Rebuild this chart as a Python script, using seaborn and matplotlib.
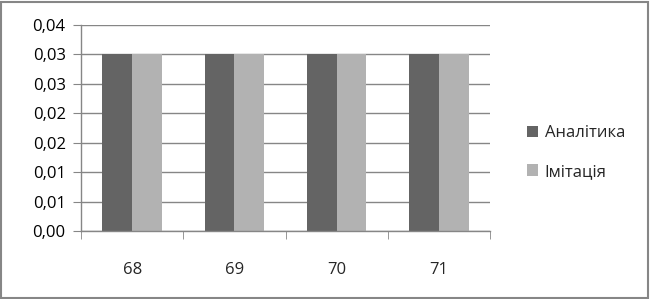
import math
import matplotlib
matplotlib.use("Agg")
import matplotlib.pyplot as plt
from matplotlib.ticker import MultipleLocator, FuncFormatter, FixedLocator
from matplotlib.patches import Rectangle
import seaborn as sns
import pandas as pd

categories = ["68", "69", "70", "71"]
analytic = [0.03, 0.03, 0.03, 0.03]
imitation = [0.03, 0.03, 0.03, 0.03]
series_names = ["Аналітика", "Імітація"]

df = pd.DataFrame({
    "cat": categories * 2,
    "value": analytic + imitation,
    "series": [series_names[0]] * 4 + [series_names[1]] * 4,
})

sns.set_style("white")
plt.rcParams["font.family"] = ["Open Sans", "DejaVu Sans"]

fig = plt.figure(figsize=(6.5, 2.99), dpi=100)
ax = fig.add_axes([81 / 650, (299 - 231) / 299, (490 - 81) / 650, (231 - 25) / 299])

grid_c = "#868686"
fs = 12
sns.barplot(data=df, x="cat", y="value", hue="series", order=categories,
            hue_order=series_names, palette=["#646464", "#b2b2b2"],
            width=0.58, gap=0, saturation=1, ax=ax, linewidth=0, legend=True)

ax.set_ylim(0, 0.035)
ax.set_xlim(-0.5, len(categories) - 0.5)
ax.yaxis.set_major_locator(MultipleLocator(0.005))


def fmt(v, pos):
    r = math.floor(v * 100 + 0.5 + 1e-9) / 100
    return f"{r:.2f}".replace(".", ",")


ax.yaxis.set_major_formatter(FuncFormatter(fmt))
ax.grid(axis="y", color=grid_c, linewidth=1)
ax.set_axisbelow(True)
for s in ["top", "right"]:
    ax.spines[s].set_visible(False)
for s in ["left", "bottom"]:
    ax.spines[s].set_color(grid_c)
    ax.spines[s].set_linewidth(1)

ax.tick_params(axis="y", which="major", left=True, length=6, color=grid_c,
               labelsize=fs, labelcolor="black", pad=5)
ax.xaxis.set_major_locator(FixedLocator(range(len(categories))))
ax.xaxis.set_minor_locator(FixedLocator([i - 0.5 for i in range(len(categories) + 1)]))
ax.tick_params(axis="x", which="major", bottom=False, labelsize=fs, pad=19)
ax.tick_params(axis="x", which="minor", bottom=True, length=6, color=grid_c)
ax.set_xlabel("")
ax.set_ylabel("")

leg = ax.legend(loc="upper left", bbox_to_anchor=(1.075, 0.545), frameon=False,
                fontsize=fs, handlelength=0.65, handleheight=0.65, handletextpad=0.4,
                labelspacing=1.35, borderaxespad=0)

fig.patches.append(Rectangle((0.5 / 650, 1.5 / 299), 647.5 / 650, 296 / 299,
                             transform=fig.transFigure, fill=False,
                             edgecolor=grid_c, linewidth=1.5))

fig.savefig("out.png", dpi=100)
